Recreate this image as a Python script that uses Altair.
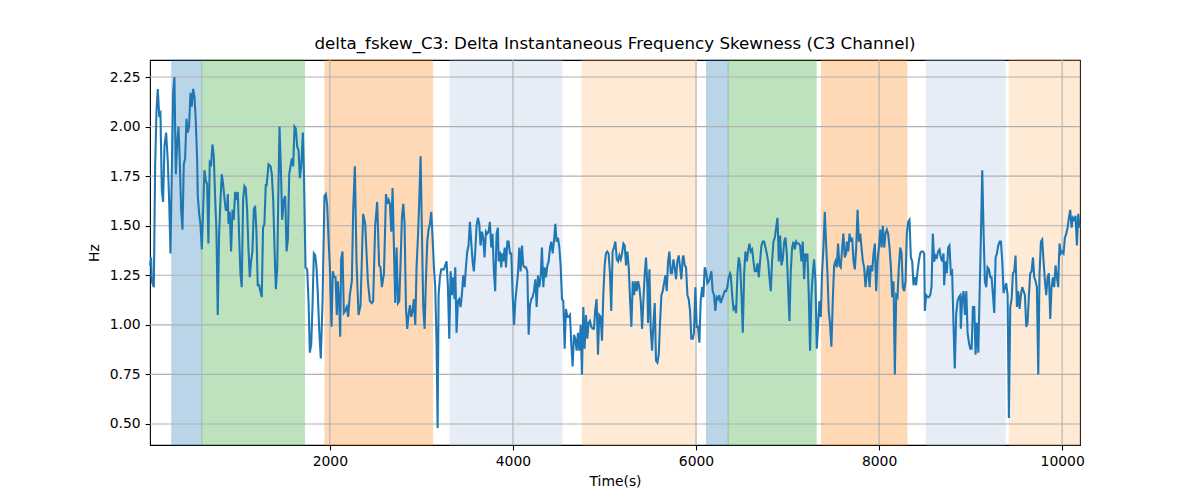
import altair as alt
import pandas as pd

# ---- line data (time in s, value in Hz) ----
time_a = [35, 47, 55, 77, 91, 106, 120, 135, 149, 164, 178, 193, 211, 229, 244, 259, 273, 288, 302, 317,
          331, 346, 360, 375, 390, 404, 419, 433, 448, 462, 477, 491, 506, 521, 535, 550, 557, 572, 586, 601,
          615, 630, 644, 659, 673, 688, 703, 717, 732, 746, 761, 775, 790, 805, 819, 834, 848, 863, 877, 885,
          892, 906, 921, 936, 950, 965, 979, 994, 1008, 1023, 1037, 1052, 1067, 1081, 1096, 1110, 1125, 1139,
          1154, 1169, 1183, 1198, 1212, 1227, 1241, 1256, 1270, 1285, 1300]
hz_a = [1.30, 1.34, 1.22, 1.19, 1.80, 2.08, 2.19, 2.06, 2.07, 1.68, 1.62, 1.90, 1.97, 1.83, 1.63, 1.36, 1.78, 2.17, 2.25, 1.76,
        1.91, 2.00, 1.83, 1.58, 1.48, 1.81, 1.84, 2.04, 1.97, 2.00, 2.17, 2.10, 2.19, 2.15, 2.03, 1.83, 1.65, 1.56, 1.51, 1.38,
        1.58, 1.78, 1.73, 1.71, 1.41, 1.82, 1.81, 1.91, 1.85, 1.65, 1.47, 1.05, 1.46, 1.63, 1.76, 1.71, 1.64, 1.58, 1.58, 1.66,
        1.51, 1.57, 1.37, 1.58, 1.53, 1.67, 1.63, 1.67, 1.46, 1.26, 1.19, 1.63, 1.70, 1.69, 1.58, 1.39, 1.24, 1.32,
        1.37, 1.58, 1.60, 1.47, 1.20, 1.20, 1.17, 1.14, 1.49, 1.51, 1.71]

time_b = [1308, 1330, 1352, 1366, 1381, 1395, 1410, 1425, 1436, 1450, 1465, 1479, 1497, 1512, 1527, 1541, 1556, 1570, 1585, 1599,
          1614, 1628, 1643, 1658, 1672, 1687, 1705, 1716, 1734, 1752, 1767, 1781, 1796, 1810, 1825, 1840, 1854, 1869, 1883, 1901,
          1920, 1941, 1956, 1971, 1985, 2000, 2018, 2032, 2047, 2062, 2076, 2087, 2102, 2113, 2123, 2138, 2153, 2167, 2185, 2200,
          2218, 2240, 2255, 2273, 2291, 2313, 2335, 2364, 2386, 2415, 2437, 2458, 2473, 2495, 2517, 2538, 2553, 2568]
hz_b = [1.70, 1.81, 1.80, 1.76, 1.63, 1.39, 1.18, 1.29, 1.63, 2.00, 1.78, 1.53, 1.63, 1.65, 1.37, 1.43, 1.76, 1.80, 1.84, 1.80,
        2.00, 1.99, 1.90, 1.88, 1.74, 1.80, 1.97, 1.78, 1.29, 1.28, 1.12, 0.86, 0.90, 1.09, 1.36, 1.35, 1.29, 1.15, 0.98, 0.83,
        1.12, 1.65, 1.66, 1.60, 1.44, 1.29, 0.99, 1.27, 1.24, 1.24, 1.05, 1.22, 1.10, 0.94, 1.33, 1.37, 1.06, 1.07, 1.09, 1.04,
        1.15, 1.22, 1.58, 1.80, 1.32, 1.05, 1.10, 1.56, 1.51, 1.22, 1.12, 1.11, 1.12, 1.50, 1.62, 1.30, 1.29, 1.19]

time_c = [2591, 2613, 2627, 2642, 2656, 2671, 2685, 2700, 2714, 2729, 2744, 2758, 2773, 2787, 2802, 2816, 2831, 2845, 2860, 2875,
          2889, 2904, 2918, 2933, 2947, 2962, 2977, 2991, 3006, 3020, 3035, 3049, 3064, 3078, 3093, 3108, 3122, 3137, 3151, 3166,
          3177, 3188, 3202, 3217, 3231, 3246, 3260, 3275, 3290, 3304, 3319, 3333, 3348, 3362, 3370, 3384, 3399, 3413, 3428, 3442,
          3457, 3472, 3486, 3501, 3515, 3530, 3544, 3559, 3573, 3588, 3603, 3617, 3632, 3646, 3661, 3675, 3690, 3705, 3719, 3734,
          3748, 3763, 3777, 3792, 3806, 3821, 3836]
hz_c = [1.26, 1.66, 1.61, 1.63, 1.61, 1.47, 1.69, 1.39, 1.11, 1.39, 1.11, 1.12, 1.32, 1.54, 1.61, 1.51, 1.09, 0.98, 1.05, 1.10,
        1.04, 1.07, 1.13, 1.00, 1.29, 1.44, 1.63, 1.85, 1.46, 1.09, 0.98, 1.22, 1.42, 1.48, 1.51, 1.57, 1.44, 1.29, 1.19, 0.90,
        0.48, 1.15, 1.24, 1.28, 1.28, 1.28, 1.30, 1.32, 1.19, 0.93, 1.27, 1.15, 1.24, 1.13, 1.29, 0.96, 1.12, 1.13, 1.09, 1.15,
        1.25, 1.19, 1.29, 1.37, 1.40, 1.52, 1.42, 1.32, 1.27, 1.37, 1.50, 1.54, 1.51, 1.40, 1.47, 1.44, 1.34, 1.47, 1.46, 1.47,
        1.52, 1.39, 1.46, 1.27, 1.17, 1.46, 1.49]

time_d = [3844, 3859, 3873, 3881, 3895, 3910, 3924, 3939, 3953, 3968, 3982, 3997, 4012, 4026, 4041, 4055, 4070, 4084, 4099, 4113,
          4128, 4143, 4157, 4172, 4186, 4201, 4215, 4230, 4245, 4259, 4274, 4288, 4303, 4317, 4332, 4346, 4361, 4376, 4390, 4405,
          4419, 4434, 4448, 4463, 4477, 4492, 4507, 4521, 4536, 4550, 4565, 4579, 4594, 4609, 4623, 4638, 4652, 4667, 4681, 4696,
          4710, 4725, 4740, 4754, 4769, 4783, 4798, 4812, 4827, 4841, 4856, 4871, 4885, 4900, 4914, 4929, 4943, 4958, 4973, 4987,
          5002, 5016, 5031, 5045, 5060, 5074, 5089, 5104]
hz_d = [1.32, 1.37, 1.29, 1.36, 1.32, 1.39, 1.29, 1.42, 1.42, 1.36, 1.36, 1.15, 1.00, 1.12, 1.19, 1.26, 1.39, 1.27, 1.40, 1.30,
        1.29, 1.29, 1.27, 0.95, 1.10, 1.13, 1.14, 1.17, 1.23, 1.09, 1.25, 1.19, 1.24, 1.39, 1.19, 1.29, 1.24, 1.30, 1.32, 1.39,
        1.42, 1.36, 1.42, 1.51, 1.42, 1.44, 1.39, 1.30, 1.13, 1.12, 0.88, 1.08, 1.04, 1.04, 1.05, 0.90, 0.79, 0.95, 0.93, 0.87,
        0.96, 0.87, 1.00, 0.75, 1.09, 0.88, 1.05, 0.93, 1.01, 1.02, 0.99, 0.98, 0.98, 1.08, 1.13, 0.85, 1.05, 1.04, 0.92, 1.15,
        1.30, 1.36, 1.37, 1.36, 1.26, 1.07, 1.37, 1.39]

time_e = [5119, 5134, 5149, 5163, 5178, 5192, 5207, 5221, 5236, 5250, 5265, 5280, 5294, 5309, 5323, 5338, 5352, 5367, 5381, 5396,
          5411, 5425, 5440, 5454, 5469, 5476, 5491, 5505, 5520, 5534, 5549, 5563, 5578, 5593, 5607, 5622, 5636, 5651, 5665, 5680,
          5695, 5709, 5724, 5738, 5753, 5767, 5782, 5796, 5811, 5826, 5840, 5855, 5862, 5877, 5891, 5906, 5920, 5935, 5949, 5964,
          5978, 5993, 6008, 6022, 6037, 6051, 6066, 6080, 6095, 6109, 6124, 6139, 6153, 6168, 6182, 6197, 6211, 6226, 6241, 6255,
          6270, 6284, 6299, 6313, 6328, 6342, 6357, 6372]
hz_e = [1.42, 1.33, 1.32, 1.35, 1.33, 1.36, 1.41, 1.40, 1.30, 1.37, 1.29, 1.12, 0.99, 1.22, 1.15, 1.22, 1.17, 1.22, 1.19, 1.12,
        0.98, 1.12, 1.26, 1.34, 1.19, 1.01, 1.28, 0.98, 0.87, 1.00, 1.11, 0.82, 0.81, 0.85, 1.01, 1.15, 1.17, 1.21, 1.25, 1.17,
        1.32, 1.37, 1.26, 1.26, 1.33, 1.29, 1.23, 1.32, 1.35, 1.29, 1.23, 1.34, 1.35, 1.30, 1.29, 1.15, 1.13, 1.07, 0.93, 0.93,
        0.96, 1.19, 0.99, 0.99, 0.91, 1.12, 1.19, 1.14, 1.29, 1.27, 1.21, 1.22, 1.24, 1.27, 1.17, 1.15, 1.07, 1.14, 1.13, 1.15,
        1.11, 1.13, 1.15, 1.17, 1.17, 1.19, 1.24, 1.26]

time_f = [6380, 6395, 6409, 6424, 6438, 6453, 6467, 6482, 6497, 6511, 6526, 6540, 6555, 6569, 6584, 6599, 6613, 6628, 6642, 6657,
          6671, 6686, 6700, 6715, 6730, 6744, 6759, 6773, 6788, 6802, 6817, 6831, 6846, 6861, 6875, 6890, 6897, 6904, 6919, 6933,
          6948, 6963, 6977, 6992, 7006, 7021, 7035, 7050, 7064, 7079, 7094, 7108, 7123, 7137, 7152, 7166, 7181, 7195, 7210, 7217,
          7232, 7246, 7261, 7276, 7290, 7305, 7319, 7334, 7348, 7363, 7377, 7392, 7407, 7421, 7436, 7450, 7465, 7479, 7494, 7509,
          7523, 7538, 7552, 7567, 7581, 7596, 7610, 7625, 7640]
hz_f = [1.25, 1.15, 1.08, 1.09, 1.06, 1.26, 1.34, 1.30, 1.15, 0.96, 1.26, 1.37, 1.32, 1.37, 1.41, 1.37, 1.38, 1.32, 1.27, 1.27,
        1.31, 1.24, 1.32, 1.40, 1.42, 1.42, 1.39, 1.36, 1.32, 1.24, 1.17, 1.32, 1.42, 1.44, 1.49, 1.54, 1.44, 1.32, 1.45, 1.30,
        1.33, 1.42, 1.44, 1.36, 1.19, 1.02, 1.27, 1.39, 1.42, 1.38, 1.42, 1.41, 1.41, 1.40, 1.32, 1.42, 1.23, 1.36, 1.32, 1.36,
        1.15, 0.87, 1.15, 1.26, 1.33, 1.22, 0.88, 1.00, 1.12, 1.04, 1.26, 1.39, 1.57, 1.41, 1.26, 1.07, 1.00, 0.89, 1.12, 1.30,
        1.32, 1.29, 1.41, 1.30, 1.29, 1.38, 1.46, 1.34, 1.36]

time_g = [7648, 7663, 7677, 7692, 7706, 7721, 7735, 7750, 7765, 7779, 7794, 7808, 7823, 7837, 7852, 7867, 7881, 7896, 7910, 7925,
          7939, 7954, 7968, 7983, 7998, 8012, 8027, 8041, 8056, 8070, 8085, 8099, 8114, 8129, 8143, 8158, 8172, 8187, 8201, 8216,
          8231, 8245, 8260, 8274, 8289, 8303, 8318, 8332, 8347, 8362, 8376, 8391, 8405, 8420, 8434, 8449, 8463, 8478, 8493, 8500,
          8514, 8529, 8544, 8558, 8573, 8587, 8602, 8616, 8631, 8645, 8660, 8675, 8689, 8704, 8711, 8726, 8740, 8755, 8769, 8784,
          8798, 8813, 8827, 8842, 8857, 8871, 8886, 8893]
hz_g = [1.42, 1.37, 1.46, 1.42, 1.44, 1.32, 1.28, 1.39, 1.58, 1.42, 1.46, 1.39, 1.32, 1.29, 1.19, 1.26, 1.30, 1.19, 1.30, 1.27,
        1.36, 1.41, 1.17, 1.32, 1.39, 1.48, 1.39, 1.50, 1.39, 1.46, 1.48, 1.46, 1.39, 1.29, 1.14, 1.22, 0.75, 1.15, 1.14, 1.29,
        1.39, 1.36, 1.19, 1.17, 1.22, 1.46, 1.52, 1.53, 1.34, 1.32, 1.20, 1.24, 1.20, 1.27, 1.32, 1.36, 1.37, 1.37, 1.36, 1.07,
        1.15, 1.14, 1.14, 1.15, 1.19, 1.46, 1.32, 1.35, 1.34, 1.37, 1.38, 1.34, 1.32, 1.36, 1.20, 1.32, 1.26, 1.39, 1.40, 1.26,
        1.27, 1.00, 0.78, 1.05, 1.12, 1.14, 1.15, 0.98]

time_h = [8909, 8923, 8938, 8953, 8967, 8982, 8996, 9011, 9025, 9040, 9054, 9069, 9084, 9098, 9113, 9127, 9142, 9156, 9171, 9185,
          9200, 9215, 9229, 9244, 9258, 9273, 9287, 9302, 9317, 9331, 9346, 9360, 9375, 9389, 9404, 9418, 9433, 9448, 9462, 9477,
          9491, 9506, 9520, 9535, 9549, 9564, 9579, 9593, 9608, 9622, 9637, 9651, 9666, 9681, 9695, 9710, 9724, 9739, 9753, 9768,
          9782, 9797, 9812, 9826, 9841, 9855, 9870, 9884, 9899, 9913, 9928, 9943, 9957, 9964, 9972, 9986, 10001, 10015, 10030, 10045,
          10059, 10074, 10088, 10103, 10117, 10132, 10146, 10161, 10176, 10190]
hz_h = [1.14, 1.17, 1.05, 1.17, 0.96, 0.91, 0.88, 0.88, 1.09, 1.09, 0.85, 1.01, 0.86, 1.15, 1.46, 1.78, 1.46, 1.22, 1.19, 1.29,
        1.28, 1.24, 1.24, 1.15, 1.06, 1.34, 1.36, 1.40, 1.42, 1.42, 1.32, 1.16, 1.19, 1.21, 1.15, 0.53, 1.09, 1.13, 1.26, 1.27,
        1.35, 1.09, 1.17, 1.08, 1.15, 1.19, 1.17, 1.15, 0.99, 1.01, 1.15, 1.26, 1.27, 1.34, 1.24, 1.22, 1.19, 0.75, 1.26, 1.42,
        1.43, 1.32, 1.22, 1.15, 1.24, 1.26, 1.03, 1.19, 1.24, 1.19, 1.30, 1.24, 1.19, 1.32, 1.41, 1.36, 1.37, 1.36, 1.44, 1.46,
        1.49, 1.54, 1.58, 1.49, 1.54, 1.53, 1.55, 1.40, 1.56, 1.49]

# ---- shaded spans ----
span_start = [273, 601, 1946, 3312, 4755, 6114, 6351, 7370, 8515, 9422]
span_end = [601, 1724, 3123, 4536, 6001, 6351, 7312, 8304, 9378, 10195]
span_color = ["#1f77b4", "#2ca02c", "#ff7f0e", "#aec7e8", "#ffbb78",
              "#1f77b4", "#2ca02c", "#ff7f0e", "#aec7e8", "#ffbb78"]

x_ticks = [2000, 4000, 6000, 8000, 10000]
y_ticks = [0.50, 0.75, 1.00, 1.25, 1.50, 1.75, 2.00, 2.25]

times = time_a + time_b + time_c + time_d + time_e + time_f + time_g + time_h
values = hz_a + hz_b + hz_c + hz_d + hz_e + hz_f + hz_g + hz_h
line_df = pd.DataFrame({"t": times[:len(values)], "v": values[:len(times)]})
span_df = pd.DataFrame({"s": span_start, "e": span_end, "c": span_color})
xg_df = pd.DataFrame({"t": x_ticks})
yg_df = pd.DataFrame({"v": y_ticks})

W, H = 930, 385
FONT = "DejaVu Sans"
xs = alt.Scale(domain=[35, 10195], nice=False, zero=False)
ys = alt.Scale(domain=[0.394, 2.336], nice=False, zero=False)
x_axis = alt.Axis(values=x_ticks, format="d", title="Time(s)", grid=False, titlePadding=6)
y_axis = alt.Axis(values=y_ticks, format=".2f", title="Hz", grid=False, titlePadding=8)

spans = alt.Chart(span_df).mark_rect(opacity=0.3, strokeWidth=1).encode(
    x=alt.X("s:Q", scale=xs, axis=x_axis),
    x2="e:Q",
    y=alt.value(0),
    y2=alt.value(H),
    color=alt.Color("c:N", scale=None),
    stroke=alt.Stroke("c:N", scale=None),
)

xgrid = alt.Chart(xg_df).mark_rule(color="#b0b0b0", strokeWidth=1.1).encode(
    x=alt.X("t:Q", scale=xs, axis=x_axis), y=alt.value(0), y2=alt.value(H)
)
ygrid = alt.Chart(yg_df).mark_rule(color="#b0b0b0", strokeWidth=1.1).encode(
    y=alt.Y("v:Q", scale=ys, axis=y_axis), x=alt.value(0), x2=alt.value(W)
)

line = alt.Chart(line_df).mark_line(color="#1f77b4", strokeWidth=2.08).encode(
    x=alt.X("t:Q", scale=xs, axis=x_axis),
    y=alt.Y("v:Q", scale=ys, axis=y_axis),
)

chart = alt.layer(spans, xgrid, ygrid, line).properties(
    width=W,
    height=H,
    title=alt.TitleParams(
        "delta_fskew_C3: Delta Instantaneous Frequency Skewness (C3 Channel)",
        font=FONT, fontSize=16.7, fontWeight="normal", color="black", anchor="middle", offset=7,
    ),
    autosize=alt.AutoSizeParams(type="none"),
    padding={"left": 142, "top": 52, "right": 112, "bottom": 47},
).configure_view(
    stroke="black", strokeWidth=1.1
).configure_axis(
    domain=False,
    labelFont=FONT, labelFontSize=13.9, labelColor="black", labelPadding=4.9,
    tickColor="black", tickSize=4.9, tickWidth=1.1,
    titleFont=FONT, titleFontSize=13.9, titleFontWeight="normal", titleColor="black",
)

chart.save("out.html", embed_options={"renderer": "svg", "actions": False})
